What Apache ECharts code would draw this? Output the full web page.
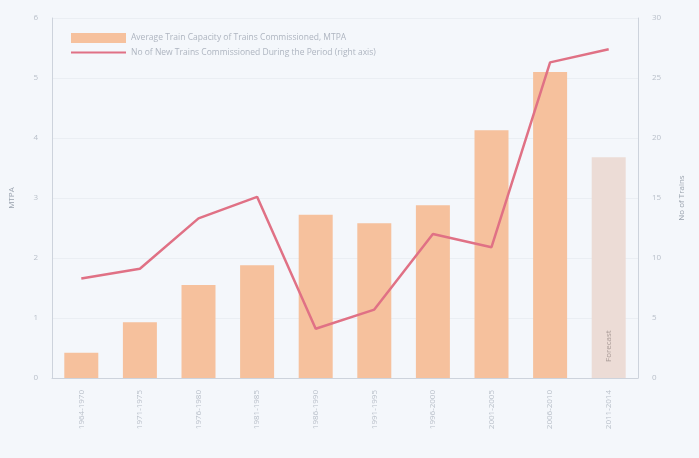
<!DOCTYPE html>
<html><head><meta charset="utf-8">
<script src="https://cdn.jsdelivr.net/npm/echarts@6/dist/echarts.min.js"></script>
<style>html,body{margin:0;padding:0;background:#f4f7fb}#c{width:699px;height:458px}</style>
</head><body><div id="c"></div>
<script>
var categories = ["1964-1970","1971-1975","1976-1980","1981-1985","1986-1990","1991-1995","1996-2000","2001-2005","2006-2010","2011-2014"];
var avgCapacity = [0.42, 0.93, 1.55, 1.88, 2.72, 2.58, 2.88, 4.13, 5.1, 3.68];
var newTrains = [8.3, 9.1, 13.3, 15.1, 4.1, 5.7, 12.0, 10.9, 26.3, 27.4];
var leftTicks = [0, 6, 1];
var rightTicks = [0, 30, 5];
var forecastIndex = 9;

var barData = avgCapacity.map(function(v, i){
  if (i === forecastIndex) {
    return {value: v, itemStyle: {color: '#ecdcd6'},
      label: {show: true, position: 'insideBottom', rotate: 90, align: 'left', verticalAlign: 'middle', offset: [11, 0],
        formatter: 'Forecast', color: '#a89a96', fontSize: 8, fontFamily: 'Open Sans'}};
  }
  return v;
});

var chart = echarts.init(document.getElementById('c'));
chart.setOption({
  backgroundColor: '#f4f7fb',
  animation: false,
  textStyle: {fontFamily: 'Open Sans'},
  grid: {left: 50, right: 61, top: 18, bottom: 80},
  legend: {
    orient: 'vertical', left: 65, top: 28, itemGap: 5, itemWidth: 55, itemHeight: 10,
    textStyle: {color: '#aeb5c0', fontSize: 8.5},
    data: [
      {name: 'Average Train Capacity of Trains Commissioned, MTPA', icon: 'rect'},
      {name: 'No of New Trains Commissioned During the Period (right axis)', itemStyle: {opacity: 0}}
    ]
  },
  xAxis: {
    type: 'category', data: categories,
    axisLine: {lineStyle: {color: '#cdd3dc'}},
    axisTick: {show: false},
    axisLabel: {rotate: 90, color: '#b8bfc9', fontSize: 8, margin: 12, interval: 0}
  },
  yAxis: [
    {type: 'value', min: leftTicks[0], max: leftTicks[1], interval: leftTicks[2], name: 'MTPA',
     nameLocation: 'middle', nameRotate: 90, nameGap: 36, nameTextStyle: {color: '#9aa3ae', fontSize: 8},
     axisLine: {show: true, lineStyle: {color: '#cdd3dc'}}, axisTick: {show: false},
     axisLabel: {color: '#b8bfc9', fontSize: 8, margin: 14},
     splitLine: {show: true, lineStyle: {color: '#eaeef3'}}},
    {type: 'value', min: rightTicks[0], max: rightTicks[1], interval: rightTicks[2], name: 'No of Trains',
     nameLocation: 'middle', nameRotate: 90, nameGap: 40, nameTextStyle: {color: '#9aa3ae', fontSize: 8},
     axisLine: {show: true, lineStyle: {color: '#cdd3dc'}}, axisTick: {show: false},
     axisLabel: {color: '#b8bfc9', fontSize: 8, margin: 14},
     splitLine: {show: false}}
  ],
  series: [
    {name: 'Average Train Capacity of Trains Commissioned, MTPA', type: 'bar', data: barData,
     barWidth: 34, itemStyle: {color: '#f6c19d'}, yAxisIndex: 0},
    {name: 'No of New Trains Commissioned During the Period (right axis)', type: 'line', data: newTrains,
     yAxisIndex: 1, symbol: 'none', lineStyle: {color: '#e07185', width: 2.5}, itemStyle: {color: '#e07185'}, z: 5}
  ]
});
</script></body></html>
